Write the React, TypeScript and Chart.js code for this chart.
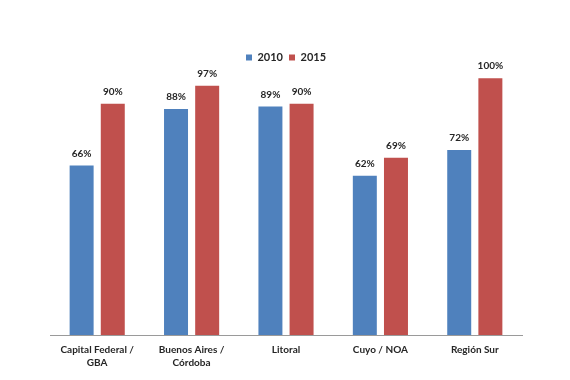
import React, { useEffect, useRef } from "react";
import { Chart, registerables } from "chart.js";

Chart.register(...registerables);

const categories: string[][] = [
  ["Capital Federal /", "GBA"],
  ["Buenos Aires /", "Córdoba"],
  ["Litoral"],
  ["Cuyo / NOA"],
  ["Región Sur"],
];
const series2010: number[] = [66, 88, 89, 62, 72];
const series2015: number[] = [90, 97, 90, 69, 100];
const seriesLabels: string[] = ["2010", "2015"];

const FONT = "Lato, 'Open Sans', sans-serif";

const valueLabels = {
  id: "valueLabels",
  afterDatasetsDraw(chart: any) {
    const ctx = chart.ctx;
    ctx.save();
    ctx.font = `bold 10px ${FONT}`;
    ctx.fillStyle = "#262626";
    ctx.textAlign = "center";
    ctx.textBaseline = "middle";
    chart.data.datasets.forEach((ds: any, i: number) => {
      const meta = chart.getDatasetMeta(i);
      meta.data.forEach((el: any, j: number) => {
        ctx.fillText(`${ds.data[j]}%`, el.x, el.y - 12);
      });
    });
    ctx.restore();
  },
};

export default function App() {
  const ref = useRef<HTMLCanvasElement>(null);
  useEffect(() => {
    if (!ref.current) return;
    const chart = new Chart(ref.current, {
      type: "bar",
      data: {
        labels: categories,
        datasets: [
          {
            label: seriesLabels[0],
            data: series2010,
            backgroundColor: "#4F81BD",
            categoryPercentage: 0.66,
            barPercentage: 0.77,
          },
          {
            label: seriesLabels[1],
            data: series2015,
            backgroundColor: "#C0504D",
            categoryPercentage: 0.66,
            barPercentage: 0.77,
          },
        ],
      },
      options: {
        responsive: false,
        animation: false,
        layout: { padding: { top: 46, left: 50, right: 48, bottom: 0 } },
        plugins: {
          legend: {
            position: "top",
            labels: {
              boxWidth: 6,
              boxHeight: 6,
              padding: 6,
              color: "#262626",
              font: { family: FONT, size: 11, weight: "bold" },
            },
          },
          tooltip: { enabled: false },
        },
        scales: {
          x: {
            grid: { display: false },
            border: { display: true, color: "#9a9a9a", width: 1 },
            ticks: {
              color: "#262626",
              padding: 0,
              font: { family: FONT, size: 10, weight: "bold", lineHeight: 1.3 },
              maxRotation: 0,
              autoSkip: false,
            },
            afterFit: (scale: any) => {
              scale.height = 45;
            },
          },
          y: {
            display: false,
            min: 0,
            max: 102,
          },
        },
      },
      plugins: [valueLabels],
    });
    return () => chart.destroy();
  }, []);
  return (
    <div style={{ position: "fixed", left: 0, top: 0, width: 570, height: 380, background: "#fff" }}>
      <canvas ref={ref} width={570} height={380} />
    </div>
  );
}
